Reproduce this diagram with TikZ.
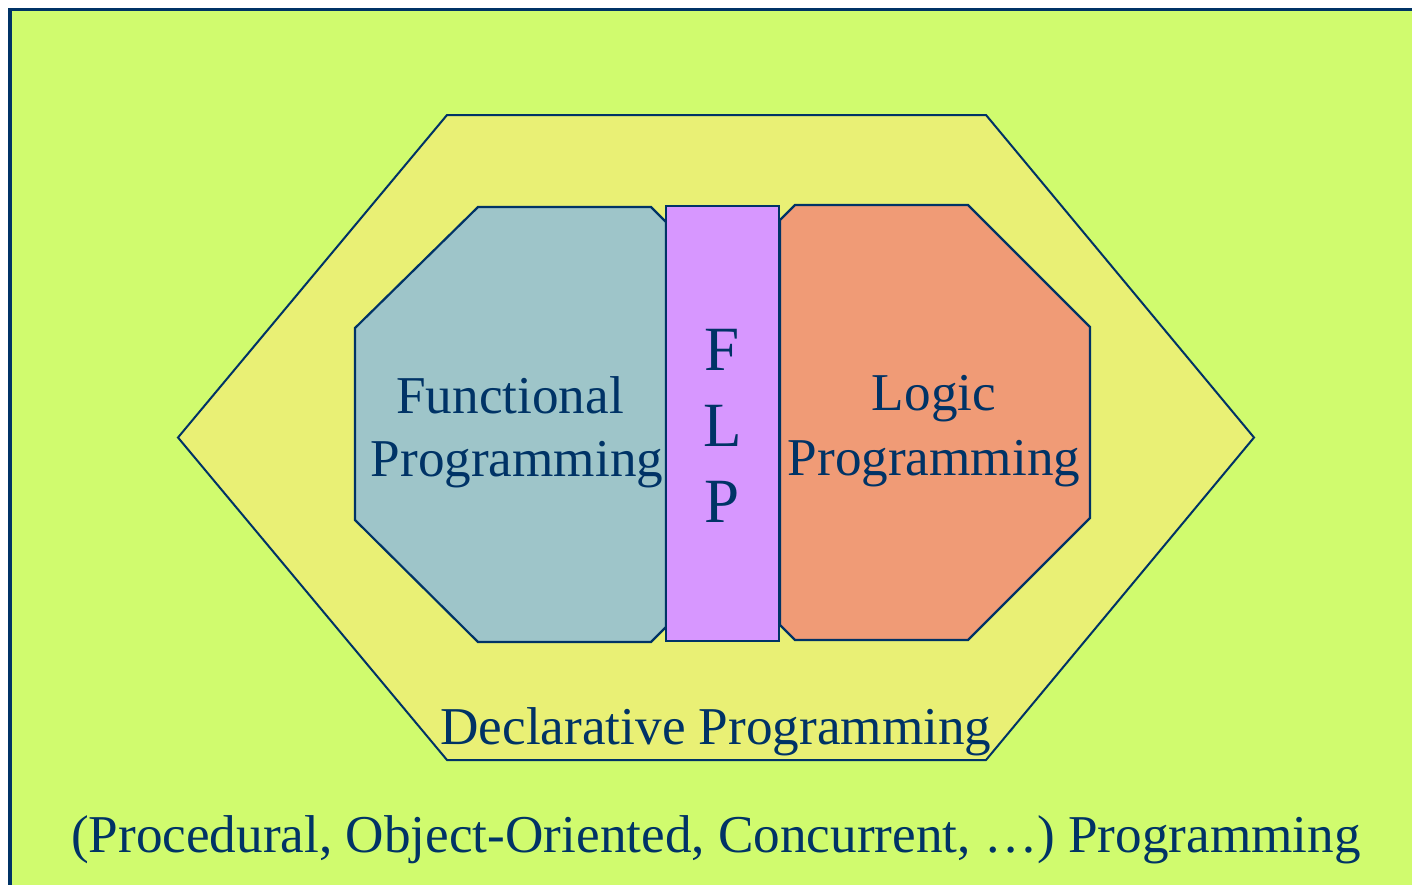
\documentclass[tikz,border=0pt]{standalone}
\usepackage{fontspec}
\setmainfont{Liberation Serif}
\definecolor{ink}{RGB}{0,51,102}
\definecolor{pagegreen}{RGB}{208,251,110}
\definecolor{declyellow}{RGB}{233,240,117}
\definecolor{funcblue}{RGB}{158,197,201}
\definecolor{flpviolet}{RGB}{215,151,255}
\definecolor{logicorange}{RGB}{240,155,118}
\tikzset{
  outline/.style={draw=ink, line width=1.1pt, line join=miter},
  lbl/.style={text=ink, font=\fontsize{26.6}{32}\selectfont, inner sep=0pt, anchor=base},
  flpletter/.style={lbl, font=\fontsize{31.5}{36}\selectfont},
}
\begin{document}
\begin{tikzpicture}[x=0.5pt,y=-0.5pt]
\useasboundingbox (0,0) rectangle (1412,884);
\clip (0,0) rectangle (1412,884);
\fill[white] (0,0) rectangle (1412,884);

% the surrounding world of programming paradigms
\draw[draw=ink, line width=1.6pt, fill=pagegreen] (10,9.5) rectangle (1440,900);

% declarative programming
\draw[outline, line width=1pt, fill=declyellow]
  (447,115) -- (986,115) -- (1254,437.5) -- (986,760) -- (447,760) -- (178,437.5) -- cycle;

% functional programming
\draw[outline, fill=funcblue]
  (478,207) -- (651,207) -- (666,222) -- (666,627) -- (651,642) -- (478,642)
  -- (355,520) -- (355,328) -- cycle;

% logic programming
\draw[outline, fill=logicorange]
  (780,220) -- (795,205) -- (968,205) -- (1090,327) -- (1090,518) -- (968,640)
  -- (795,640) -- (780,625) -- cycle;

% functional logic programming
\draw[outline, fill=flpviolet] (666,206) rectangle (779,641);

% labels
\node[lbl] (fun1) at (510,413) {Functional};
\node[lbl] (fun2) at (517,476) {Programming};
\node[lbl] (log1) at (934,410) {Logic};
\node[lbl] (log2) at (934,475) {Programming};
\node[flpletter] (flpF) at (722.5,370) {F};
\node[flpletter] (flpL) at (722.5,446) {L};
\node[flpletter] (flpP) at (722.5,522) {P};
\node[lbl] (decl) at (716,744) {Declarative Programming};
\node[lbl] (other) at (716,852) {(Procedural, Object-Oriented, Concurrent, …) Programming};
\end{tikzpicture}
\end{document}
